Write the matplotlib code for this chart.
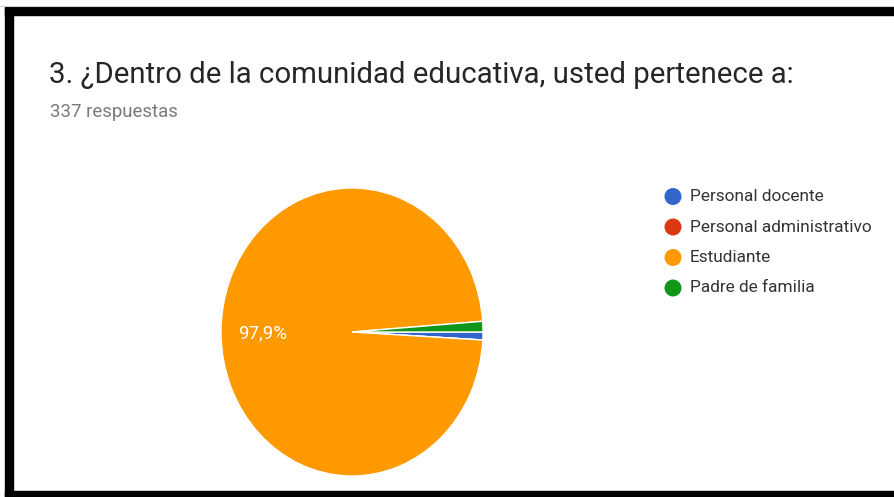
import matplotlib.pyplot as plt
from matplotlib.patches import Rectangle

plt.rcParams['font.family'] = ['Roboto', 'DejaVu Sans']

# datos de la encuesta (337 respuestas)
categorias = ['Personal docente', 'Personal administrativo', 'Estudiante', 'Padre de familia']
respuestas = [3, 0, 330, 4]
colores = ['#3366cc', '#dc3912', '#ff9900', '#109618']

titulo = '3. ¿Dentro de la comunidad educativa, usted pertenece a:'
subtitulo = '337 respuestas'

W, H = 894, 497
fig = plt.figure(figsize=(W / 100, H / 100), dpi=100)

# capa de fondo en pixeles (marco y textos)
bg = fig.add_axes([0, 0, 1, 1])
bg.set_xlim(0, W)
bg.set_ylim(H, 0)
bg.axis('off')
bg.add_patch(Rectangle((5, 7), W, 8, color='black'))
bg.add_patch(Rectangle((5, 7), 8, H, color='black'))
bg.add_patch(Rectangle((5, 491), W, 8, color='black'))
bg.plot([0, W], [6, 6], color='#cccccc', lw=0.8)

bg.text(49, 75, titulo, fontsize=21.2, color='#262626', va='center', ha='left')
bg.text(50, 112, subtitulo, fontsize=13.4, color='#7a7a7a', va='center', ha='left')

# leyenda
for i, (nombre, col) in enumerate(zip(categorias, colores)):
    y = 196.5 + 30.5 * i
    bg.scatter([673], [y], s=150, color=col, edgecolors='none')
    bg.text(690, y, nombre, fontsize=12.4, color='#333333', va='center', ha='left')

# torta (ligeramente eliptica como en la captura)
cx, cy, rx, ry = 352, 332, 131, 144
ax = fig.add_axes([(cx - rx) / W, (H - cy - ry) / H, 2 * rx / W, 2 * ry / H])


def etiqueta(p):
    if p < 5:
        return ''
    return f'{p:.1f}%'.replace('.', ',')


wedges, textos, autot = ax.pie(respuestas, colors=colores, startangle=0, counterclock=False,
                               autopct=etiqueta, pctdistance=0.68,
                               wedgeprops=dict(edgecolor='white', linewidth=1))
for t in autot:
    t.set_color('white')
    t.set_fontsize(13.5)
ax.set_aspect('auto')
ax.set_xlim(-1, 1)
ax.set_ylim(-1, 1)

fig.savefig('out.png', dpi=100)
